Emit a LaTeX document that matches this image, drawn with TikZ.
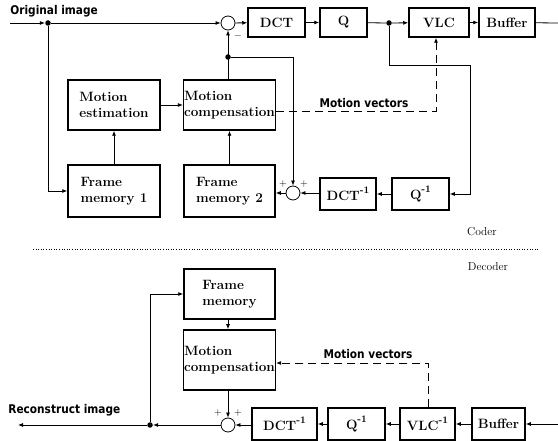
\documentclass[tikz,border=0pt]{standalone}
\usepackage{fontspec}
\newfontfamily\lblfont[FakeStretch=0.88]{DejaVu Sans}
\usetikzlibrary{arrows.meta}
\newcommand{\inv}{\raisebox{0.5em}{\fontsize{10}{10}\selectfont -1}}
\tikzset{
  blk/.style={draw, line width=1.5pt, inner sep=2pt, align=left,
    font=\fontsize{13.5}{16}\selectfont\bfseries},
  sumnode/.style={draw, circle, minimum size=14pt, inner sep=0pt},
  dotnode/.style={circle, fill, minimum size=5.5pt, inner sep=0pt},
  lbl/.style={font=\lblfont\bfseries\fontsize{12}{14}\selectfont, inner sep=0pt},
  sgn/.style={font=\fontsize{10}{12}\selectfont},
  side/.style={font=\fontsize{11.5}{13}\selectfont},
  mv/.style={dashed, dash pattern=on 8pt off 5pt},
}
\begin{document}
\begin{tikzpicture}[x=1pt, y=-1pt, line width=0.8pt, >={Latex[length=5pt,width=4pt]}]
   \useasboundingbox (0,0) rectangle (558,441);

   \node[lbl, anchor=west] (orig) at (10,11) {Original image};
   \coordinate (in) at (10,23);
   \coordinate (out) at (558,23);
   \node[dotnode] (jin) at (48,23) {};
   \node[sumnode] (sumA) at (228,23) {};
   \node[blk, minimum width=57pt, minimum height=29pt] (dct) at (276.5,22.5) {DCT};
   \node[blk, minimum width=47pt, minimum height=29pt] (q) at (343.5,22.5) {Q};
   \node[dotnode] (jq) at (389,23) {};
   \node[blk, minimum width=60pt, minimum height=29pt] (vlc) at (439,22.5) {VLC};
   \node[blk, minimum width=56pt, minimum height=29pt] (buf) at (507,22.5) {Buffer};

   \node[blk, minimum width=92pt, minimum height=50pt] (me) at (114,105) {Motion\\estimation};
   \node[blk, minimum width=91pt, minimum height=50pt, inner sep=0.5pt] (mc) at (229.5,105) {Motion\\compensation};
   \node[blk, minimum width=92pt, minimum height=52pt] (fm1) at (114,191) {Frame\\memory 1};
   \node[blk, minimum width=91pt, minimum height=52pt] (fm2) at (229.5,191) {Frame\\memory 2};

   \node[dotnode] (jmc) at (228,57) {};
   \node[sumnode] (sumB) at (293,193) {};
   \node[blk, minimum width=56pt, minimum height=32pt] (idct) at (348,194) {DCT\inv};
   \node[blk, minimum width=57pt, minimum height=32pt] (iq) at (420.5,194) {Q\inv};
   \coordinate (fb) at (470,65);
   \coordinate (mvA) at (436,111);
   \node[lbl] (mvtA) at (364,103) {Motion vectors};

   \node[sgn] (minus) at (238,36) {$-$};
   \node[sgn] (plusA) at (283,184) {+};
   \node[sgn] (plusB) at (304,184) {+};

   \draw[->] (in) -- (jin);
   \draw[->] (jin) -- (sumA);
   \draw[->] (sumA) -- (dct);
   \draw[->] (dct) -- (q);
   \draw (q) -- (jq);
   \draw[->] (jq) -- (vlc);
   \draw[->] (vlc) -- (buf);
   \draw (buf) -- (out);
   \draw[->] (jin) |- (fm1);
   \draw[->] (fm1) -- (me);
   \draw[->] (me) -- (mc);
   \draw[->] (fm2) -- (mc);
   \draw[->] (mc.north -| sumA) -- (sumA);
   \draw[->] (jmc) -| (sumB);
   \draw[->] (sumB) -- (sumB -| fm2.east);
   \draw[->] (iq) -- (idct);
   \draw[->] (idct.west |- sumB) -- (sumB);
   \draw[->] (jq) |- (fb) |- (iq.east);
   \draw[mv, ->] (mc.east |- mvA) -- (mvA) -- (mvA |- vlc.south);

   \node[side] (coder) at (482,232) {Coder};
   \node[side] (decoder) at (488,267) {Decoder};
   \draw[dotted, line width=0.6pt] (33,249) -- (538,249);

   \node[blk, minimum width=91pt, minimum height=50pt] (fm) at (229.5,294) {Frame\\memory};
   \node[blk, minimum width=91pt, minimum height=60pt, inner sep=0.5pt] (mcd) at (229.5,360) {Motion\\compensation};
   \node[sumnode] (sumC) at (228,425) {};
   \node[blk, minimum width=65pt, minimum height=32pt] (idctd) at (284.5,424) {DCT\inv};
   \node[blk, minimum width=57pt, minimum height=32pt] (iqd) at (356.5,424) {Q\inv};
   \node[blk, minimum width=55pt, minimum height=32pt] (ivlc) at (427.5,424) {VLC\inv};
   \node[blk, minimum width=53pt, minimum height=32pt] (bufd) at (498.5,424) {Buffer};
   \coordinate (ind) at (558,424);
   \coordinate (outd) at (18,425);
   \node[dotnode] (jout) at (150,425) {};
   \coordinate (mvB) at (428,363);
   \node[lbl] (mvtB) at (368,354) {Motion vectors};
   \node[lbl, anchor=west] (recon) at (8,410) {Reconstruct image};
   \node[sgn] (plusC) at (218,413) {+};
   \node[sgn] (plusD) at (238,413) {+};

   \draw[->] (ind) -- (bufd);
   \draw[->] (bufd) -- (ivlc);
   \draw[->] (ivlc) -- (iqd);
   \draw[->] (iqd) -- (idctd);
   \draw[->] (idctd.west |- sumC) -- (sumC);
   \draw[->] (sumC) -- (jout);
   \draw[->] (jout) -- (outd);
   \draw[->] (jout) |- (fm);
   \draw[->] (fm.south -| sumC) -- (mcd.north -| sumC);
   \draw[->] (mcd.south -| sumC) -- (sumC);
   \draw[mv, ->] (ivlc.north -| mvB) -- (mvB) -- (mvB -| mcd.east);

\end{tikzpicture}
\end{document}
